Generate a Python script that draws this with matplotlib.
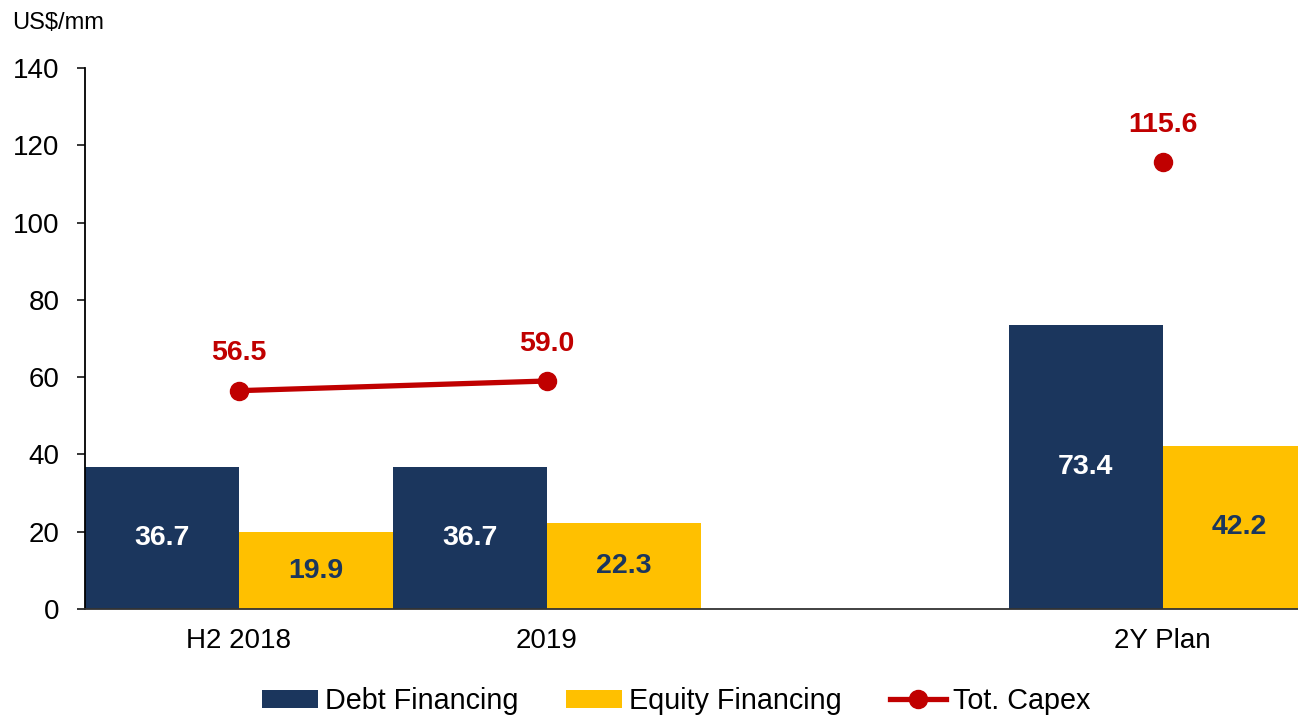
import numpy as np
import matplotlib
matplotlib.use("Agg")
import matplotlib.pyplot as plt
from matplotlib.lines import Line2D
from matplotlib.patches import Patch

plt.rcParams['font.family'] = ['Liberation Sans', 'DejaVu Sans']

categories = ["H2 2018", "2019", "", "2Y Plan"]
debt = [36.7, 36.7, np.nan, 73.4]
equity = [19.9, 22.3, np.nan, 42.2]
capex = [56.5, 59.0, np.nan, 115.6]
yticks = [0, 20, 40, 60, 80, 100, 120, 140]

navy = "#1B365D"
yellow = "#FFC000"
red = "#C00000"

fig = plt.figure(figsize=(12.98, 7.16), dpi=100)
ax = fig.add_axes([85/1298, 1-609/716, 1-85/1298, (609-68)/716])

x = np.arange(len(categories))
w = 0.5
ax.bar(x - w/2, debt, width=w, color=navy, zorder=2)
ax.bar(x + w/2, equity, width=w, color=yellow, zorder=2)
ax.plot(x, capex, color=red, lw=3.8, marker='o', markersize=13, zorder=4, clip_on=False)

for xi, v in zip(x, debt):
    if not np.isnan(v):
        ax.text(xi - w/2, v/2, f"{v:.1f}", ha='center', va='center', color='white',
                fontsize=20.5, fontweight='bold', zorder=5)
for xi, v in zip(x, equity):
    if not np.isnan(v):
        ax.text(xi + w/2, v/2, f"{v:.1f}", ha='center', va='center', color=navy,
                fontsize=20.5, fontweight='bold', zorder=5)
for xi, v in zip(x, capex):
    if not np.isnan(v):
        ax.annotate(f"{v:.1f}", (xi, v), xytext=(0, 27), textcoords='offset points',
                    ha='center', va='center', color=red, fontsize=20.5, fontweight='bold', zorder=5)

ax.set_xlim(-0.5, 3.44)
ax.set_ylim(0, 140)
ax.set_yticks(yticks)
ax.set_xticks([0, 1, 3])
ax.set_xticklabels([categories[0], categories[1], categories[3]])
ax.tick_params(axis='y', labelsize=20, length=5.5, width=1.1, pad=13, color='black')
ax.tick_params(axis='x', labelsize=20, length=0, pad=14)
for s in ['top', 'right']:
    ax.spines[s].set_visible(False)
ax.spines['left'].set_linewidth(1.3)
ax.spines['bottom'].set_linewidth(1.3)
ax.spines['left'].set_color('black')
ax.spines['bottom'].set_color('#333333')

fig.text(12/1298, 1-23/716, "US$/mm", fontsize=17, ha='left', va='center')

handles = [Patch(facecolor=navy, label="Debt Financing"),
           Patch(facecolor=yellow, label="Equity Financing"),
           Line2D([0], [0], color=red, lw=3.8, marker='o', markersize=13, label="Tot. Capex")]
fig.legend(handles=handles, loc='center', bbox_to_anchor=(676/1298, 1-701/716), ncol=3,
           frameon=False, fontsize=20.7, handlelength=1.95, handleheight=0.6,
           handletextpad=0.25, columnspacing=1.65, borderaxespad=0, borderpad=0)

fig.savefig("out.png", dpi=100)
